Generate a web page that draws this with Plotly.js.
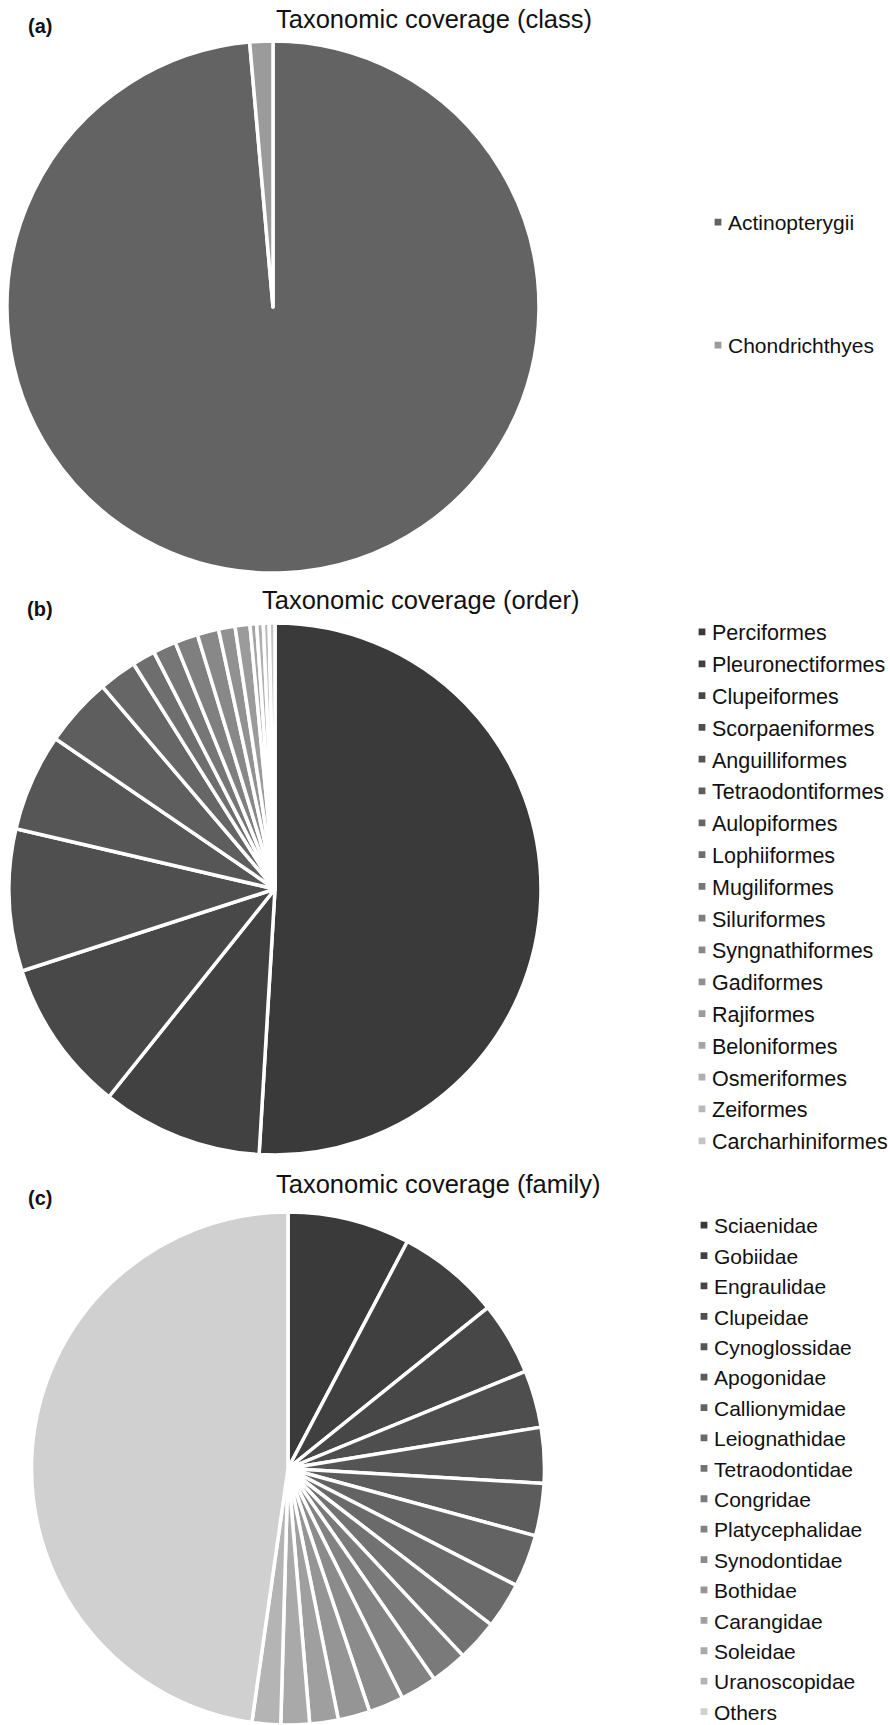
<!DOCTYPE html>
<html>
<head>
<meta charset="utf-8">
<script src="https://cdn.plot.ly/plotly-3.0.1.min.js"></script>
<style>
html,body{margin:0;padding:0;background:#ffffff;}
#chart{width:890px;height:1725px;}
</style>
</head>
<body>
<div id="chart"></div>
<script>
// ---- data ----
const classLabels = ['Actinopterygii', 'Chondrichthyes'];
const classValues = [98.6, 1.4];
const classColors = ['#636363', '#9b9b9b'];

const orderLabels = ['Perciformes', 'Pleuronectiformes', 'Clupeiformes', 'Scorpaeniformes',
  'Anguilliformes', 'Tetraodontiformes', 'Aulopiformes', 'Lophiiformes', 'Mugiliformes',
  'Siluriformes', 'Syngnathiformes', 'Gadiformes', 'Rajiformes', 'Beloniformes',
  'Osmeriformes', 'Zeiformes', 'Carcharhiniformes'];
const orderValues = [50.8, 9.75, 9.25, 8.6, 5.9, 4.2, 2.3, 1.4, 1.4, 1.4, 1.3, 1.0, 0.9, 0.4, 0.4, 0.35, 0.35];
const orderColors = ['#3a3a3a', '#414141', '#484848', '#4f4f4f', '#565656', '#5e5e5e', '#666666',
  '#6e6e6e', '#767676', '#7f7f7f', '#888888', '#919191', '#9b9b9b', '#a5a5a5', '#afafaf',
  '#b9b9b9', '#c4c4c4'];

const familyLabels = ['Sciaenidae', 'Gobiidae', 'Engraulidae', 'Clupeidae', 'Cynoglossidae',
  'Apogonidae', 'Callionymidae', 'Leiognathidae', 'Tetraodontidae', 'Congridae',
  'Platycephalidae', 'Synodontidae', 'Bothidae', 'Carangidae', 'Soleidae', 'Uranoscopidae', 'Others'];
const familyValues = [7.7, 6.5, 4.6, 3.6, 3.5, 3.3, 3.3, 2.9, 2.6, 2.3, 2.3, 2.2, 2.0, 1.8, 1.8, 1.8, 47.7];
const familyColors = ['#3a3a3a', '#404040', '#474747', '#4e4e4e', '#555555', '#5c5c5c', '#636363',
  '#6a6a6a', '#727272', '#7a7a7a', '#828282', '#8b8b8b', '#959595', '#9f9f9f', '#a9a9a9',
  '#b4b4b4', '#d0d0d0'];

const panelTitles = ['Taxonomic coverage (class)', 'Taxonomic coverage (order)', 'Taxonomic coverage (family)'];
const panelTags = ['(a)', '(b)', '(c)'];

// ---- layout helpers (pixel -> paper) ----
const W = 890, H = 1725;
const px = x => x / W;
const py = y => 1 - y / H;
const FONT = '"Liberation Sans", Arial, Helvetica, sans-serif';
const lineStyle = {color: '#ffffff', width: 3.5};

function pieTrace(labels, values, colors, dom, legendId) {
  return {
    type: 'pie', labels: labels, values: values, sort: false,
    direction: 'clockwise', rotation: 0, textinfo: 'none', hoverinfo: 'label+percent',
    marker: {colors: colors, line: lineStyle},
    domain: dom, legend: legendId
  };
}

const data = [
  pieTrace(classLabels, classValues, classColors, {x: [px(7), px(539)], y: [py(573), py(41)]}, 'legend'),
  pieTrace(orderLabels, orderValues, orderColors, {x: [px(9), px(541)], y: [py(1155), py(623)]}, 'legend2'),
  pieTrace(familyLabels, familyValues, familyColors, {x: [px(31), px(545)], y: [0, py(1212)]}, 'legend3')
];

function legendCfg(x, y, size) {
  return {x: px(x), y: py(y), xanchor: 'left', yanchor: 'top', bgcolor: 'rgba(0,0,0,0)',
    font: {family: FONT, size: size, color: '#111111'}, itemclick: false, itemdoubleclick: false};
}

const titlePos = [[433.5, 19], [420, 600], [438, 1184]];
const tagPos = [[39.5, 26], [40, 609.5], [39.5, 1198]];
const annotations = [];
panelTitles.forEach((t, i) => annotations.push({
  text: t, xref: 'paper', yref: 'paper', x: px(titlePos[i][0]), y: py(titlePos[i][1]),
  xanchor: 'center', yanchor: 'middle', showarrow: false,
  font: {family: FONT, size: 25.5, color: '#111111'}
}));
panelTags.forEach((t, i) => annotations.push({
  text: '<b>' + t + '</b>', xref: 'paper', yref: 'paper', x: px(tagPos[i][0]), y: py(tagPos[i][1]),
  xanchor: 'center', yanchor: 'middle', showarrow: false,
  font: {family: FONT, size: 20, color: '#111111'}
}));

const layout = {
  width: W, height: H, margin: {l: 0, r: 0, t: 0, b: 0, autoexpand: false},
  paper_bgcolor: '#ffffff', plot_bgcolor: '#ffffff',
  showlegend: true,
  legend: legendCfg(688, 202, 21),
  legend2: legendCfg(672, 611.5, 21.5),
  legend3: legendCfg(674, 1205, 21),
  annotations: annotations,
  font: {family: FONT}
};

// item spacing (px) of each legend in the original figure
const legendSpacing = {legend: 123, legend2: 31.8, legend3: 30.4};

Plotly.newPlot('chart', data, layout, {displayModeBar: false, responsive: false}).then(function (gd) {
  // legend swatches: smaller and closer to their text, as in the original figure
  gd.querySelectorAll('g.legendpoints path').forEach(function (p) {
    p.setAttribute('transform', 'translate(30,0) scale(0.8)');
  });
  Object.keys(legendSpacing).forEach(function (id) {
    const leg = gd.querySelector('g.' + id);
    if (!leg) return;
    leg.querySelectorAll('g.scrollbox').forEach(function (sb) { sb.removeAttribute('clip-path'); });
    const items = leg.querySelectorAll('g.traces');
    let x0 = null, y0 = null;
    items.forEach(function (it, i) {
      const t = it.getAttribute('transform') || '';
      const m = t.match(/translate\(\s*([-\d.]+)[ ,]+([-\d.]+)\s*\)/);
      if (!m) return;
      if (i === 0) { x0 = parseFloat(m[1]); y0 = parseFloat(m[2]); return; }
      if (y0 === null) return;
      it.setAttribute('transform', 'translate(' + parseFloat(m[1]) + ',' + (y0 + i * legendSpacing[id]) + ')');
    });
  });
});
</script>
</body>
</html>
